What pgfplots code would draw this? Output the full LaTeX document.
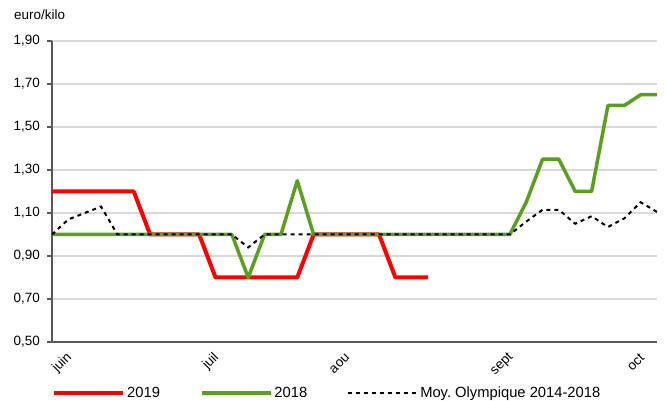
\documentclass[border=0pt]{standalone}
\usepackage{pgfplots}
\pgfplotsset{compat=1.18}
\usepackage{pgfplotstable}
\usepackage{fontspec}
\setmainfont{Liberation Sans}
\definecolor{red19}{HTML}{FF0000}
\definecolor{green18}{HTML}{5AA01E}
\definecolor{axisgray}{HTML}{595959}
\definecolor{gridgray}{HTML}{D9D9D9}

\pgfplotstableread{
i v
0 1.20
1 1.20
2 1.20
3 1.20
4 1.20
5 1.20
6 1.00
7 1.00
8 1.00
9 1.00
10 0.80
11 0.80
12 0.80
13 0.80
14 0.80
15 0.80
16 1.00
17 1.00
18 1.00
19 1.00
20 1.00
21 0.80
22 0.80
23 0.80
}\redtab

\pgfplotstableread{
i v
0 1.00
1 1.00
2 1.00
3 1.00
4 1.00
5 1.00
6 1.00
7 1.00
8 1.00
9 1.00
10 1.00
11 1.00
12 0.80
13 1.00
14 1.00
15 1.25
16 1.00
17 1.00
18 1.00
19 1.00
20 1.00
21 1.00
22 1.00
23 1.00
24 1.00
25 1.00
26 1.00
27 1.00
28 1.00
29 1.15
30 1.35
31 1.35
32 1.20
33 1.20
34 1.60
35 1.60
36 1.65
37 1.65
}\greentab

\pgfplotstableread{
i v
0 1.00
1 1.07
2 1.10
3 1.13
4 1.00
5 1.00
6 1.00
7 1.00
8 1.00
9 1.00
10 1.00
11 1.00
12 0.94
13 1.00
14 1.00
15 1.00
16 1.00
17 1.00
18 1.00
19 1.00
20 1.00
21 1.00
22 1.00
23 1.00
24 1.00
25 1.00
26 1.00
27 1.00
28 1.00
29 1.06
30 1.115
31 1.115
32 1.05
33 1.085
34 1.035
35 1.075
36 1.15
37 1.105
}\avgtab

\begin{document}
\begin{tikzpicture}
\useasboundingbox (0,0) rectangle (669bp,401bp);
\node[anchor=west, font=\fontsize{13.5}{16}\selectfont, inner sep=0pt] at (14bp,386bp) {euro/kilo};
\begin{axis}[
  at={(52bp,59bp)}, anchor=south west,
  scale only axis, width=605bp, height=301bp,
  xmin=0, xmax=37, ymin=0.5, ymax=1.9,
  axis lines=left,
  axis line style={-, axisgray, line width=1.2bp},
  ytick={0.5,0.7,0.9,1.1,1.3,1.5,1.7,1.9},
  xtick={1,10,18,28,36},
  xticklabels={juin,juil,aou,sept,oct},
  ymajorgrids,
  major grid style={gridgray, line width=1.5bp},
  tick align=outside,
  major tick length=5bp,
  ytick style={axisgray, line width=1.2bp},
  xtick style={draw=none},
  tick label style={font=\fontsize{13.5}{16}\selectfont, text=black},
  /pgf/number format/.cd, fixed, fixed zerofill, precision=2, use comma, assume math mode=true,
  /pgfplots/.cd,
  yticklabel style={anchor=east, inner sep=0pt, xshift=-7bp},
  xticklabel style={rotate=45, anchor=east, inner sep=0pt, xshift=-5bp, yshift=-7bp},
  legend columns=3,
  legend style={at={(axis description cs:0,-0.169)}, anchor=west, draw=none, fill=none,
    inner sep=0pt, font=\fontsize{14.8}{17}\selectfont,
    /tikz/every even column/.append style={column sep=38bp}},
  legend image code/.code={\draw[#1] (0bp,0bp) -- (69bp,0bp);},
]
\addplot[red19, line width=4bp, line join=round] table[x=i,y=v] {\redtab};
\addlegendentry{2019}
\addplot[green18, line width=3.5bp, line join=round] table[x=i,y=v] {\greentab};
\addlegendentry{2018}
\addplot[black, line width=2bp, dash pattern=on 4bp off 4bp] table[x=i,y=v] {\avgtab};
\addlegendentry{Moy.\ Olympique 2014-2018}
\end{axis}
\end{tikzpicture}
\end{document}
